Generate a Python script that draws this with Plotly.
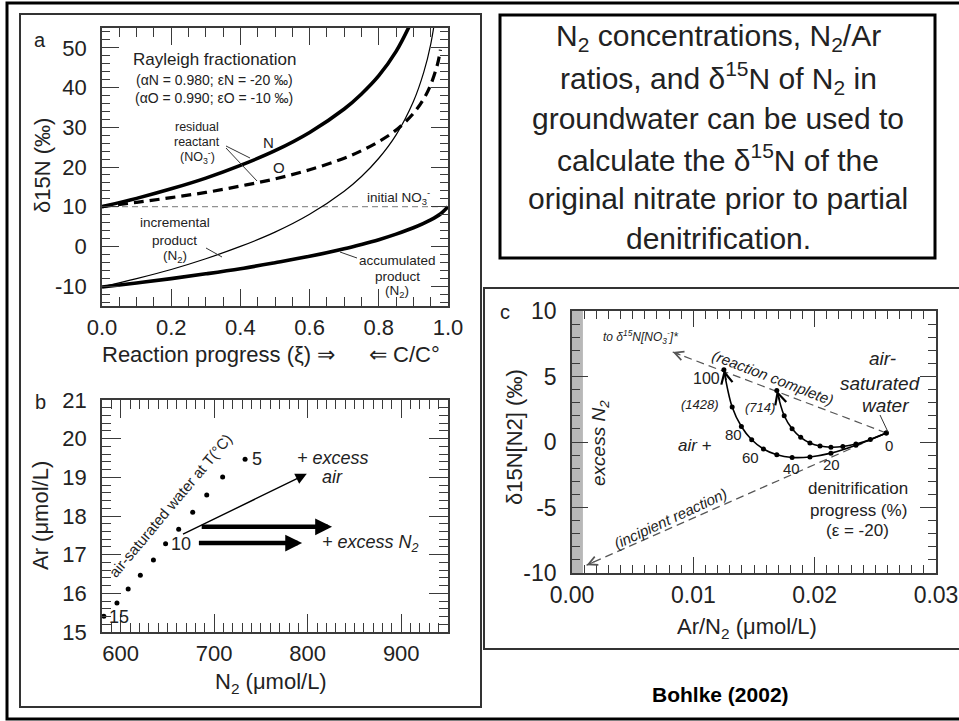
import plotly.graph_objects as go

W, H = 959, 721
FONT = "Liberation Sans"
INK = "#222222"
AXC = "#3a3a3a"

# ---------------- data ----------------
# Panel a : Rayleigh fractionation curves
a_xi_n = [0.0, 0.1, 0.2, 0.3, 0.4, 0.5, 0.6, 0.7, 0.75, 0.8, 0.85, 0.9]
a_n_residual = [10.0, 12.1, 14.5, 17.2, 20.4, 24.1, 28.7, 34.6, 38.4, 43.0, 49.1, 57.6]
a_xi_o = [0.0, 0.1, 0.2, 0.3, 0.4, 0.5, 0.6, 0.7, 0.75, 0.8, 0.85, 0.9, 0.93, 0.95, 0.97, 0.978]
a_o_residual = [10.0, 11.1, 12.3, 13.6, 15.2, 17.0, 19.3, 22.2, 24.1, 26.4, 29.3, 33.5, 37.2, 40.7, 46.0, 49.5]
a_xi_inc = [0.0, 0.1, 0.2, 0.3, 0.4, 0.5, 0.6, 0.7, 0.75, 0.8, 0.85, 0.9, 0.93, 0.95, 0.97]
a_n2_incremental = [-10.2, -8.1, -5.8, -3.1, 0.0, 3.6, 8.1, 13.9, 17.6, 22.2, 28.1, 36.5, 43.9, 50.9, 61.7]
a_xi_acc = [0.0, 0.1, 0.2, 0.3, 0.4, 0.5, 0.6, 0.7, 0.75, 0.8, 0.85, 0.9, 0.95, 0.98, 1.0]
a_n2_accumulated = [-10.2, -9.2, -8.1, -6.9, -5.6, -4.1, -2.5, -0.6, 0.5, 1.7, 3.1, 4.7, 6.7, 8.3, 10.0]
a_initial_xi = [0.0, 1.0]
a_initial_no3 = [10.0, 10.0]
a_xticks = [0.0, 0.2, 0.4, 0.6, 0.8, 1.0]
a_xticktext = ["0.0", "0.2", "0.4", "0.6", "0.8", "1.0"]
a_yticks = [-10, 0, 10, 20, 30, 40, 50]
a_yticktext = ["-10", "0", "10", "20", "30", "40", "50"]

# Panel b : air-saturated water, temperature 5..15 degC
b_temps = [5, 6, 7, 8, 9, 10, 11, 12, 13, 14, 15]
b_n2 = [733, 709, 692, 677, 662, 648, 635, 621, 608, 596, 582]
b_ar = [19.47, 19.01, 18.54, 18.10, 17.66, 17.28, 16.86, 16.47, 16.11, 15.75, 15.41]
b_air_arrow_n2 = [665, 799]
b_air_arrow_ar = [17.51, 19.09]
b_excess_upper_n2 = [685, 826]
b_excess_upper_ar = [17.72, 17.72]
b_excess_lower_n2 = [682, 794]
b_excess_lower_ar = [17.30, 17.30]
b_xticks = [600, 700, 800, 900]
b_xticktext = ["600", "700", "800", "900"]
b_yticks = [15, 16, 17, 18, 19, 20, 21]
b_yticktext = ["15", "16", "17", "18", "19", "20", "21"]

# Panel c : denitrification progress (%) curves
c_progress = [0, 10, 20, 30, 40, 50, 60, 70, 80, 90, 100]
c_outer_ratio = [0.0259, 0.0234, 0.02134, 0.01961, 0.01814, 0.01688, 0.01578, 0.01481, 0.01396, 0.0132, 0.01252]
c_outer_d15n = [0.69, -0.25, -0.85, -1.14, -1.18, -0.97, -0.53, 0.17, 1.18, 2.67, 5.51]
c_inner_ratio = [0.0259, 0.02459, 0.0234, 0.02232, 0.02134, 0.02044, 0.01961, 0.01885, 0.01814, 0.01749, 0.01688]
c_inner_d15n = [0.69, 0.20, -0.15, -0.35, -0.40, -0.31, -0.07, 0.36, 1.01, 2.00, 3.94]
c_complete_ratio = [0.0259, 0.0083]
c_complete_d15n = [0.69, 6.87]
c_incipient_ratio = [0.0259, 0.0012]
c_incipient_d15n = [0.69, -9.4]
c_excess_band = [0.0, 0.0009]
c_xticks = [0.0, 0.01, 0.02, 0.03]
c_xticktext = ["0.00", "0.01", "0.02", "0.03"]
c_yticks = [-10, -5, 0, 5, 10]
c_yticktext = ["-10", "-5", "0", "5", "10"]

# text box
box_lines = [
    "N<sub>2</sub> concentrations, N<sub>2</sub>/Ar",
    "ratios, and δ<sup>15</sup>N of N<sub>2</sub> in",
    "groundwater can be used to",
    "calculate the δ<sup>15</sup>N of the",
    "original nitrate prior to partial",
    "denitrification.",
]


def PX(x):
    return x / W


def PY(y):
    return 1 - y / H


fig = go.Figure()

# ---- panel a traces
fig.add_trace(go.Scatter(x=a_initial_xi, y=a_initial_no3, mode="lines", xaxis="x", yaxis="y",
                         line=dict(color="#777777", width=1, dash="6px,4px")))
fig.add_trace(go.Scatter(x=a_xi_n, y=a_n_residual, mode="lines", xaxis="x", yaxis="y",
                         line=dict(color="black", width=3.6, shape="spline", smoothing=1)))
fig.add_trace(go.Scatter(x=a_xi_o, y=a_o_residual, mode="lines", xaxis="x", yaxis="y",
                         line=dict(color="black", width=3.2, dash="10px,6px", shape="spline", smoothing=1)))
fig.add_trace(go.Scatter(x=a_xi_inc, y=a_n2_incremental, mode="lines", xaxis="x", yaxis="y",
                         line=dict(color="black", width=1.2, shape="spline", smoothing=1)))
fig.add_trace(go.Scatter(x=a_xi_acc, y=a_n2_accumulated, mode="lines", xaxis="x", yaxis="y",
                         line=dict(color="black", width=3.6, shape="spline", smoothing=1)))

# ---- panel b traces
fig.add_trace(go.Scatter(x=b_n2, y=b_ar, mode="markers", xaxis="x2", yaxis="y2",
                         marker=dict(color="black", size=5)))

# ---- panel c traces
fig.add_trace(go.Scatter(x=c_complete_ratio, y=c_complete_d15n, mode="lines", xaxis="x3", yaxis="y3",
                         line=dict(color="#555555", width=1.2, dash="8px,5px")))
fig.add_trace(go.Scatter(x=c_incipient_ratio, y=c_incipient_d15n, mode="lines", xaxis="x3", yaxis="y3",
                         line=dict(color="#555555", width=1.2, dash="8px,5px")))
fig.add_trace(go.Scatter(x=c_outer_ratio, y=c_outer_d15n, mode="lines+markers", xaxis="x3", yaxis="y3",
                         line=dict(color="black", width=1.6, shape="spline", smoothing=1),
                         marker=dict(color="black", size=5)))
fig.add_trace(go.Scatter(x=c_inner_ratio, y=c_inner_d15n, mode="lines+markers", xaxis="x3", yaxis="y3",
                         line=dict(color="black", width=1.6, shape="spline", smoothing=1),
                         marker=dict(color="black", size=5)))


def axis(domain, rng, tickvals, ticktext, minor_dtick, anchor, fs, ticklen, minorlen, standoff,
         side=None, overlay=None):
    d = dict(range=rng, anchor=anchor, tickmode="array", tickvals=tickvals,
             ticktext=ticktext, ticks="inside", ticklen=ticklen, tickwidth=1.2, tickcolor=AXC,
             showline=overlay is None, linecolor=AXC, linewidth=1.6, mirror=True, showgrid=False,
             zeroline=False, automargin=False, tickfont=dict(family=FONT, size=fs, color=INK),
             ticklabelstandoff=standoff, showticklabels=overlay is None,
             minor=dict(ticks="inside", ticklen=minorlen, tickwidth=1, tickcolor=AXC,
                        tickmode="linear", tick0=0, dtick=minor_dtick, showgrid=False))
    if overlay is None:
        d["domain"] = domain
    else:
        d["overlaying"] = overlay
        d["side"] = side
    return d


xa_dom = [PX(102), PX(448)]
ya_dom = [PY(306), PY(28)]
yb_dom = [PY(632), PY(400)]
xc_dom = [PX(572), PX(936)]
yc_dom = [PY(573), PY(311)]

layout = dict(
    template="none",
    width=W, height=H, margin=dict(l=0, r=0, t=0, b=0, pad=0, autoexpand=False), showlegend=False,
    paper_bgcolor="white", plot_bgcolor="rgba(0,0,0,0)",
    font=dict(family=FONT, color=INK),
    xaxis=axis(xa_dom, [0, 1], a_xticks, a_xticktext, 0.05, "y", 22, 17, 9, 1),
    yaxis=axis(ya_dom, [-15, 55], a_yticks, a_yticktext, 2, "x", 22, 17, 8, 9),
    xaxis2=axis(xa_dom, [580, 950], b_xticks, b_xticktext, 10, "y2", 22, 18, 9, 1),
    yaxis2=axis(yb_dom, [15, 21], b_yticks, b_yticktext, 0.2, "x2", 22, 19, 9, 9),
    xaxis3=axis(xc_dom, [0, 0.03], c_xticks, c_xticktext, 0.001, "y3", 23, 16, 8, 1),
    yaxis3=axis(yc_dom, [-10, 10], c_yticks, c_yticktext, 1, "x3", 23, 16, 8, 9),
    # mirrored tick sets (top / right) drawn by overlay axes
    xaxis4=axis(None, [0, 1], a_xticks, a_xticktext, 0.05, "y", 22, 17, 9, 1, "top", "x"),
    yaxis4=axis(None, [-15, 55], a_yticks, a_yticktext, 2, "x", 22, 17, 8, 9, "right", "y"),
    xaxis5=axis(None, [580, 950], b_xticks, b_xticktext, 10, "y2", 22, 18, 9, 1, "top", "x2"),
    yaxis5=axis(None, [15, 21], b_yticks, b_yticktext, 0.2, "x2", 22, 19, 9, 9, "right", "y2"),
    xaxis6=axis(None, [0, 0.03], c_xticks, c_xticktext, 0.001, "y3", 23, 16, 8, 1, "top", "x3"),
    yaxis6=axis(None, [-10, 10], c_yticks, c_yticktext, 1, "x3", 23, 16, 8, 9, "right", "y3"),
)
fig.update_layout(**layout)
# invisible traces so the overlay axes are drawn
fig.add_trace(go.Scatter(x=[0.5], y=[0], xaxis="x4", yaxis="y4", mode="markers", marker=dict(opacity=0)))
fig.add_trace(go.Scatter(x=[700], y=[18], xaxis="x5", yaxis="y5", mode="markers", marker=dict(opacity=0)))
fig.add_trace(go.Scatter(x=[0.01], y=[0], xaxis="x6", yaxis="y6", mode="markers", marker=dict(opacity=0)))

shapes = []
# frames
shapes.append(dict(type="rect", xref="paper", yref="paper", x0=PX(7), x1=PX(965), y0=PY(719), y1=PY(3),
                   line=dict(color="black", width=3)))
shapes.append(dict(type="rect", xref="paper", yref="paper", x0=PX(20), x1=PX(481), y0=PY(707), y1=PY(14),
                   line=dict(color="#333333", width=2)))
shapes.append(dict(type="rect", xref="paper", yref="paper", x0=PX(484), x1=PX(965), y0=PY(649), y1=PY(288),
                   line=dict(color="#333333", width=2)))
shapes.append(dict(type="rect", xref="paper", yref="paper", x0=PX(500), x1=PX(935), y0=PY(258), y1=PY(15),
                   line=dict(color="black", width=3)))
# panel c excess-N2 band
shapes.append(dict(type="rect", xref="x3", yref="y3", x0=c_excess_band[0], x1=c_excess_band[1], y0=-10, y1=10,
                   fillcolor="#b8b8b8", line=dict(width=0), layer="below"))


def leader(x0, y0, x1, y1, w=1):
    return dict(type="line", xref="paper", yref="paper", x0=PX(x0), y0=PY(y0), x1=PX(x1), y1=PY(y1),
                line=dict(color="#333333", width=w))


shapes += [
    leader(226, 146, 250, 158), leader(226, 148, 257, 181),      # residual reactant -> N, O
    leader(206, 248, 222, 257),                                  # incremental product
    leader(357, 258, 340, 252),                                  # accumulated product
    leader(880, 415, 888, 432),                                  # air-saturated water
]
fig.update_layout(shapes=shapes)

ann = []


def txt(x, y, s, size=14, angle=0, xanchor="center", color=INK):
    ann.append(dict(x=PX(x), y=PY(y), xref="paper", yref="paper", text=s, showarrow=False,
                    font=dict(family=FONT, size=size, color=color), textangle=angle,
                    xanchor=xanchor, yanchor="middle"))


# ---- panel a text
txt(40, 40, "a", 20)
txt(214, 60, "Rayleigh fractionation", 17)
txt(214, 80, "(αN = 0.980; εN = -20 ‰)", 14)
txt(214, 98, "(αO = 0.990; εO = -10 ‰)", 14)
txt(197, 127, "residual", 12.5)
txt(197, 142, "reactant", 12.5)
txt(197, 157, "(NO<sub>3</sub><sup>-</sup>)", 12.5)
txt(268, 142, "N", 15)
txt(279, 167, "O", 15)
txt(175, 223, "incremental", 13.5)
txt(174, 240, "product", 13.5)
txt(175, 256, "(N<sub>2</sub>)", 13.5)
txt(398, 197, "initial NO<sub>3</sub><sup>-</sup>", 13.5)
txt(397, 260, "accumulated", 13.5)
txt(397, 276, "product", 13.5)
txt(397, 291, "(N<sub>2</sub>)", 13.5)
txt(42, 166, "δ15N (‰)", 22, angle=-90)
txt(337, 354, "Reaction progress (ξ) ⇒", 22, xanchor="right")
txt(367, 354, "⇐ C/C°", 22, xanchor="left")

# ---- panel b text
txt(40, 402, "b", 20)
txt(40, 516, "Ar (μmol/L)", 22, angle=-90)
txt(271, 683, "N<sub>2</sub> (μmol/L)", 22)
txt(250, 459, "5", 18, xanchor="left")
txt(169, 544, "10", 18, xanchor="left")
txt(107, 617, "15", 18, xanchor="left")
txt(170, 505, "air-saturated water at T(°C)", 15, angle=-50)
txt(333, 458, "<i>+ excess</i>", 18)
txt(332, 477, "<i>air</i>", 18)
txt(370, 543, "<i>+ excess N<sub>2</sub></i>", 18)

# ---- panel c text
txt(505, 312, "c", 20)
txt(515, 437, "δ15N[N2] (‰)", 22, angle=-90)
txt(747, 628, "Ar/N<sub>2</sub> (μmol/L)", 22)
txt(600, 443, "<i>excess N<sub>2</sub></i>", 19, angle=-90)
txt(640, 337, "<i>to δ<sup>15</sup>N[NO<sub>3</sub><sup>-</sup>]*</i>", 12)
txt(773, 377, "<i>(reaction complete)</i>", 15, angle=21)
txt(670, 518, "<i>(incipient reaction)</i>", 15, angle=-25)
txt(706, 378, "100", 16)
txt(700, 404, "<i>(1428)</i>", 13)
txt(760, 407, "<i>(714)</i>", 13)
txt(695, 446, "<i>air +</i>", 17)
txt(733, 435, "80", 15)
txt(750, 457, "60", 15)
txt(791, 468, "40", 15)
txt(831, 464, "20", 15)
txt(889, 446, "0", 15)
txt(882, 358, "<i>air-</i>", 19)
txt(880, 383, "<i>saturated</i>", 19)
txt(885, 405, "<i>water</i>", 19)
txt(858, 488, "denitrification", 17)
txt(858, 510, "progress (%)", 17)
txt(857, 530, "(ε = -20)", 17)

# ---- text box + credit
for i, s in enumerate(box_lines):
    txt(718, 38 + 40 * i, s, 30)
txt(720, 694, "<b>Bohlke (2002)</b>", 21, color="black")


# ---- arrows
def arrow(x, y, ax, ay, xref, yref, head, size, width, axref=None, ayref=None, color="black"):
    d = dict(x=x, y=y, ax=ax, ay=ay, xref=xref, yref=yref, showarrow=True, arrowhead=head,
             arrowsize=size, arrowwidth=width, arrowcolor=color, text="")
    if axref:
        d["axref"] = axref
        d["ayref"] = ayref
    ann.append(d)


arrow(b_air_arrow_n2[1], b_air_arrow_ar[1], b_air_arrow_n2[0], b_air_arrow_ar[0], "x2", "y2", 2, 1.6, 1.4, "x2", "y2")
arrow(b_excess_upper_n2[1], b_excess_upper_ar[1], b_excess_upper_n2[0], b_excess_upper_ar[0], "x2", "y2", 2, 0.75, 4.5, "x2", "y2")
arrow(b_excess_lower_n2[1], b_excess_lower_ar[1], b_excess_lower_n2[0], b_excess_lower_ar[0], "x2", "y2", 2, 0.75, 4.5, "x2", "y2")
arrow(c_outer_ratio[-1], c_outer_d15n[-1], 2.6, 11.7, "x3", "y3", 5, 1.6, 1.4)
arrow(c_inner_ratio[-1], c_inner_d15n[-1], 3.4, 11.5, "x3", "y3", 5, 1.6, 1.4)
arrow(c_complete_ratio[-1], c_complete_d15n[-1], 9.3, 3.5, "x3", "y3", 5, 1.6, 1.1, color="#555555")
arrow(c_incipient_ratio[-1], c_incipient_d15n[-1], 9.1, -4.0, "x3", "y3", 5, 1.6, 1.1, color="#555555")

fig.update_layout(annotations=ann)
fig.write_html("out.html")
